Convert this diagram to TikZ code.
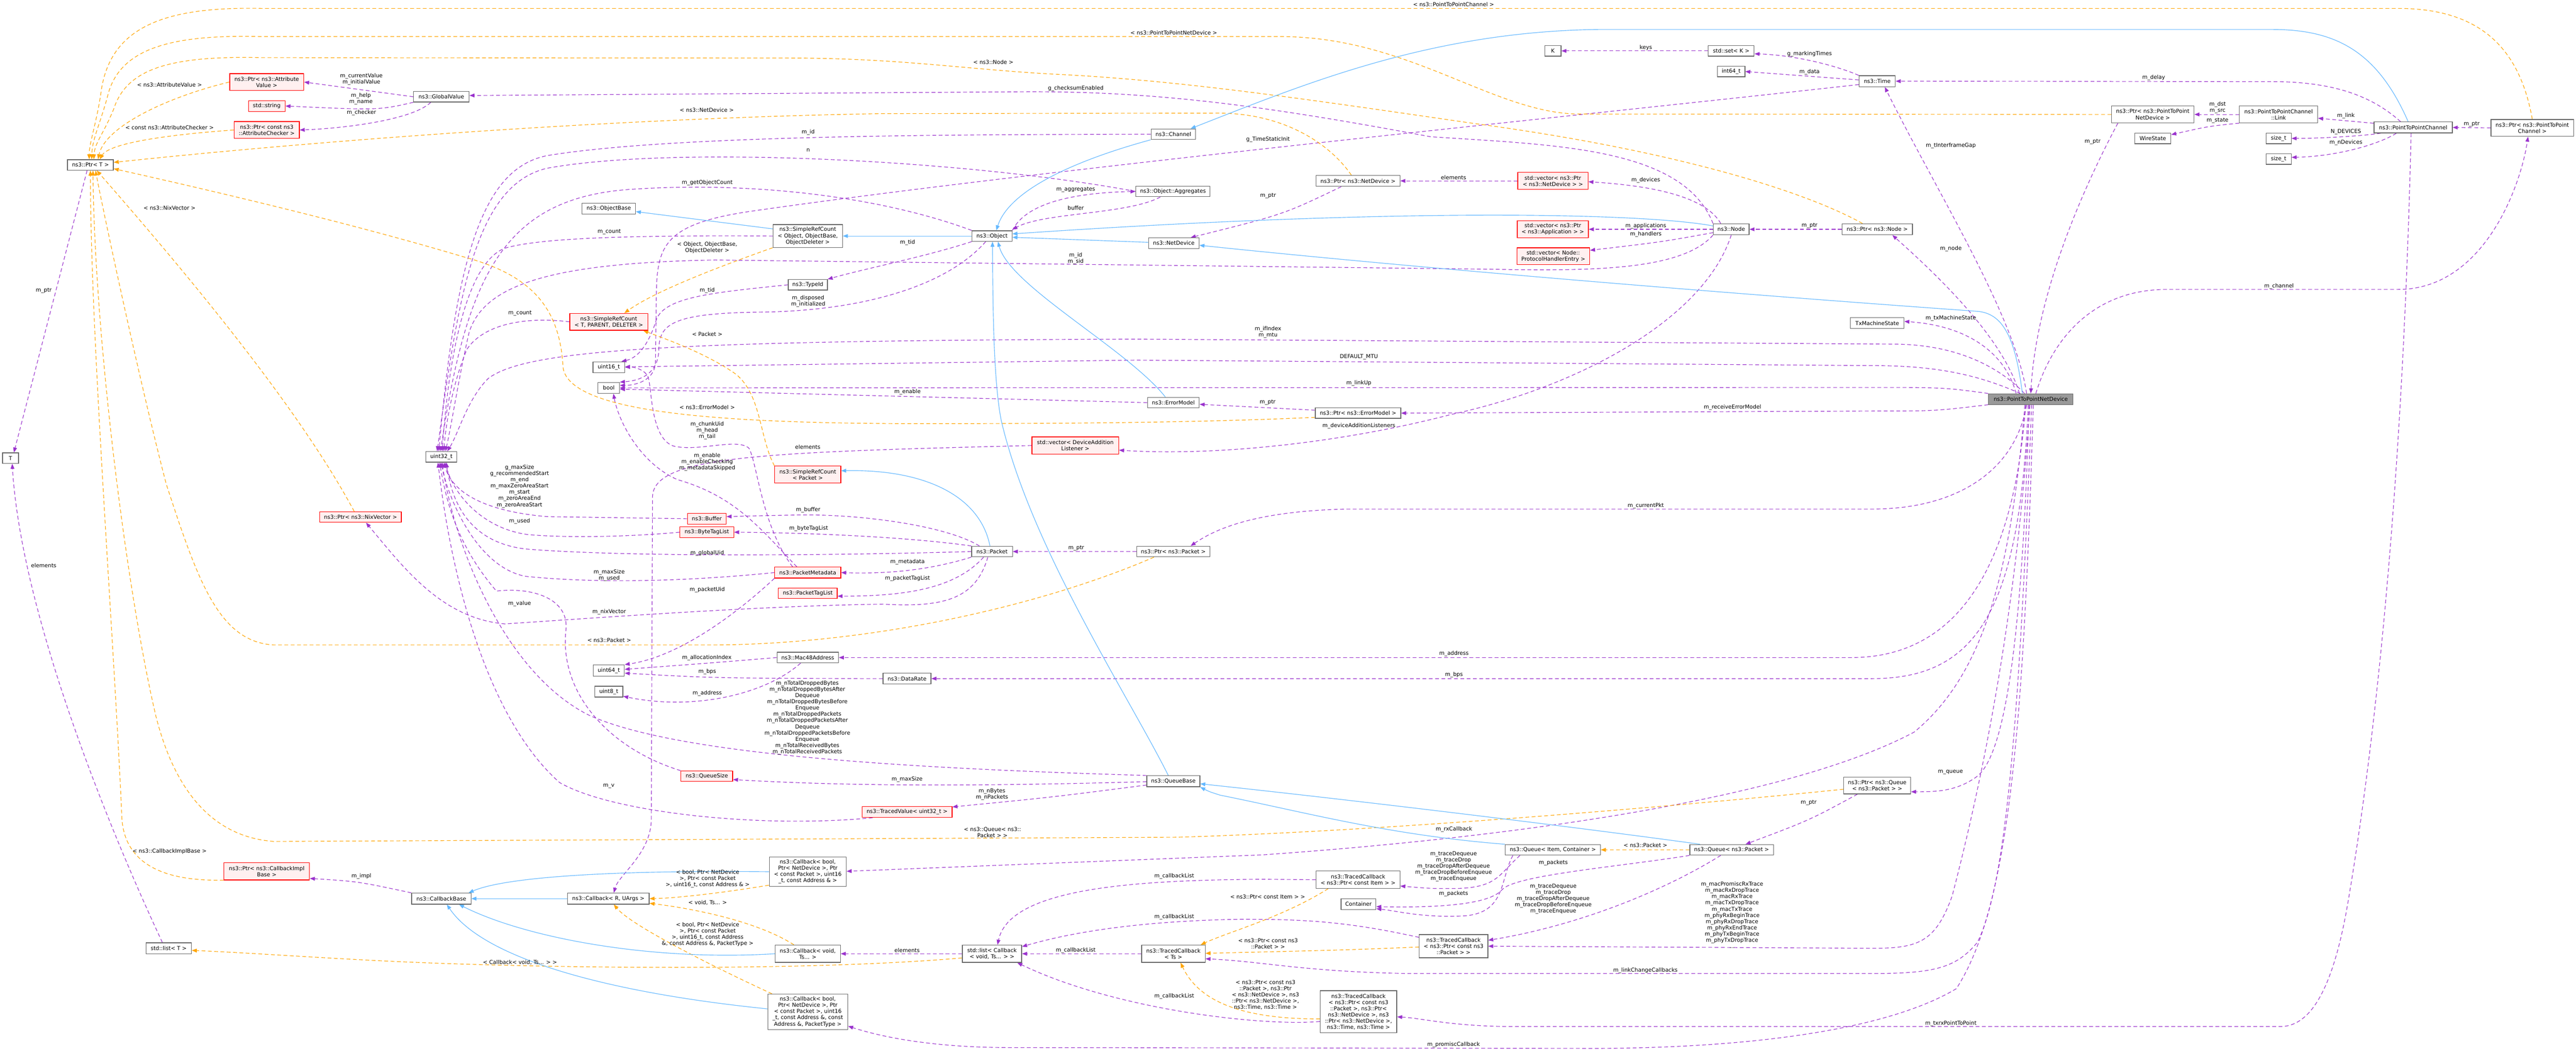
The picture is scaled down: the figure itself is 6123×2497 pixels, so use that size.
\documentclass[tikz,border=0pt]{standalone}
\usepackage{fontspec}
\newfontfamily\dvs{DejaVu Sans}
\usetikzlibrary{arrows.meta}
\pgfdeclarelayer{bg}
\pgfsetlayers{bg,main}
\definecolor{usec}{HTML}{9A32CD}
\definecolor{tplc}{HTML}{FFA500}
\definecolor{inhc}{HTML}{63B8FF}
\definecolor{ndgray}{HTML}{666666}
\definecolor{redfill}{HTML}{FFF0F0}
\definecolor{focusfill}{HTML}{999999}
\newcommand{\ndfont}{\dvs\fontsize{12.9pt}{14.8pt}\selectfont}
\tikzset{
  nd/.style={draw=ndgray, fill=white, line width=1.6pt, font=\ndfont, align=center, inner sep=1pt},
  rnd/.style={nd, draw=red, fill=redfill},
  lb/.style={font=\ndfont, align=center, inner sep=0pt, text=black},
  conn/.style={line width=1.4pt, line cap=butt},
  usel/.style={conn, draw=usec, dash pattern=on 9pt off 6pt, -{Triangle[length=12pt,width=9pt]}},
  tpll/.style={conn, draw=tplc, dash pattern=on 9pt off 6pt, -{Triangle[length=12pt,width=9pt]}},
  inhl/.style={conn, draw=inhc, -{Triangle[length=12pt,width=9pt]}},
}
\begin{document}
\begin{tikzpicture}[x=1pt,y=-1pt]
\useasboundingbox (0,0) rectangle (6123,2497);
% ---------------- nodes ----------------
\node[nd,minimum width=109pt,minimum height=25pt] (ptrT) at (215,392) {ns3::Ptr< T >};
\node[rnd,minimum width=176pt,minimum height=40pt] (ptrAttrVal) at (634,195) {ns3::Ptr< ns3::Attribute\\Value >};
\node[rnd,minimum width=87pt,minimum height=26pt] (stdstring) at (634,252) {std::string};
\node[rnd,minimum width=155pt,minimum height=40pt] (ptrAttrChk) at (634,309) {ns3::Ptr< const ns3\\::AttributeChecker >};
\node[nd,minimum width=132pt,minimum height=25pt] (globalValue) at (1049,230) {ns3::GlobalValue};
\node[nd,minimum width=127pt,minimum height=25pt] (objectBase) at (1447,496) {ns3::ObjectBase};
\node[nd,minimum width=165pt,minimum height=54pt] (srcObj) at (1920,561) {ns3::SimpleRefCount\\< Object, ObjectBase,\\ObjectDeleter >};
\node[nd,minimum width=95pt,minimum height=25pt] (object) at (2358,561) {ns3::Object};
\node[nd,minimum width=93pt,minimum height=25pt] (typeId) at (1920,677) {ns3::TypeId};
\node[rnd,minimum width=185pt,minimum height=40pt] (srcT) at (1447,765) {ns3::SimpleRefCount\\< T, PARENT, DELETER >};
\node[nd,minimum width=106pt,minimum height=25pt] (channel) at (2789,319) {ns3::Channel};
\node[nd,minimum width=39pt,minimum height=25pt] (K) at (3691,121) {K};
\node[nd,minimum width=109pt,minimum height=25pt] (stdset) at (4115,121) {std::set< K >};
\node[nd,minimum width=65pt,minimum height=25pt] (int64) at (4115,170) {int64\_t};
\node[nd,minimum width=199pt,minimum height=26pt] (ptrNetDev) at (3228,430) {ns3::Ptr< ns3::NetDevice >};
\node[rnd,minimum width=167pt,minimum height=40pt] (vecNetDev) at (3691,430) {std::vector< ns3::Ptr\\< ns3::NetDevice > >};
\node[nd,minimum width=176pt,minimum height=25pt] (aggregates) at (2788,455) {ns3::Object::Aggregates};
\node[nd,minimum width=120pt,minimum height=25pt] (netDevice) at (2790,578) {ns3::NetDevice};
\node[nd,minimum width=85pt,minimum height=26pt] (node) at (4115,545) {ns3::Node};
\node[rnd,minimum width=169pt,minimum height=40pt] (vecApp) at (3691,545) {std::vector< ns3::Ptr\\< ns3::Application > >};
\node[rnd,minimum width=173pt,minimum height=40pt] (vecPHE) at (3692,609) {std::vector< Node::\\ProtocolHandlerEntry >};
\node[nd,minimum width=86pt,minimum height=26pt] (time) at (4462,193) {ns3::Time};
\node[nd,minimum width=196pt,minimum height=40pt] (ptrP2PND) at (5117,272) {ns3::Ptr< ns3::PointToPoint\\NetDevice >};
\node[nd,minimum width=186pt,minimum height=40pt] (link) at (5416,272) {ns3::PointToPointChannel\\::Link};
\node[nd,minimum width=86pt,minimum height=25pt] (wireState) at (5117,329) {WireState};
\node[nd,minimum width=186pt,minimum height=26pt] (p2pChannel) at (5736,303) {ns3::PointToPointChannel};
\node[nd,minimum width=196pt,minimum height=40pt] (ptrP2PCh) at (6019,304) {ns3::Ptr< ns3::PointToPoint\\Channel >};
\node[nd,minimum width=60pt,minimum height=25pt] (sizetA) at (5416,329) {size\_t};
\node[nd,minimum width=60pt,minimum height=25pt] (sizetB) at (5416,378) {size\_t};
\node[nd,minimum width=167pt,minimum height=26pt] (ptrNode) at (4462,545) {ns3::Ptr< ns3::Node >};
\node[nd,minimum width=127pt,minimum height=26pt] (txMS) at (4462,768) {TxMachineState};
\node[nd,fill=focusfill,minimum width=201pt,minimum height=26pt] (p2pND) at (4827,949) {ns3::PointToPointNetDevice};
\node[nd,minimum width=38pt,minimum height=25pt] (T) at (25,1089) {T};
\node[nd,minimum width=74pt,minimum height=25pt] (uint32) at (1049,1086) {uint32\_t};
\node[rnd,minimum width=194pt,minimum height=25pt] (ptrNix) at (857,1229) {ns3::Ptr< ns3::NixVector >};
\node[nd,minimum width=75pt,minimum height=26pt] (uint16) at (1447,873) {uint16\_t};
\node[nd,minimum width=51pt,minimum height=26pt] (bool) at (1447,922) {bool};
\node[rnd,minimum width=206pt,minimum height=41pt] (vecDAL) at (2556,1059) {std::vector< DeviceAddition\\Listener >};
\node[rnd,minimum width=157pt,minimum height=40pt] (srcPacket) at (1920,1128) {ns3::SimpleRefCount\\< Packet >};
\node[rnd,minimum width=92pt,minimum height=26pt] (buffer) at (1680,1233) {ns3::Buffer};
\node[rnd,minimum width=128pt,minimum height=26pt] (byteTagList) at (1680,1265) {ns3::ByteTagList};
\node[nd,minimum width=97pt,minimum height=25pt] (packet) at (2358,1311) {ns3::Packet};
\node[rnd,minimum width=157pt,minimum height=26pt] (packetMeta) at (1920,1361) {ns3::PacketMetadata};
\node[rnd,minimum width=140pt,minimum height=25pt] (packetTagList) at (1920,1410) {ns3::PacketTagList};
\node[nd,minimum width=146pt,minimum height=25pt] (mac48) at (1920,1563) {ns3::Mac48Address};
\node[nd,minimum width=74pt,minimum height=27pt] (uint64) at (1447,1594) {uint64\_t};
\node[nd,minimum width=114pt,minimum height=26pt] (dataRate) at (2156,1613) {ns3::DataRate};
\node[nd,minimum width=67pt,minimum height=26pt] (uint8) at (1447,1644) {uint8\_t};
\node[nd,minimum width=123pt,minimum height=25pt] (errorModel) at (2789,957) {ns3::ErrorModel};
\node[nd,minimum width=203pt,minimum height=25pt] (ptrErrModel) at (3228,982) {ns3::Ptr< ns3::ErrorModel >};
\node[nd,minimum width=174pt,minimum height=25pt] (ptrPacket) at (2789,1311) {ns3::Ptr< ns3::Packet >};
\node[rnd,minimum width=203pt,minimum height=41pt] (ptrCBImpl) at (634,2071) {ns3::Ptr< ns3::CallbackImpl\\Base >};
\node[nd,minimum width=141pt,minimum height=26pt] (callbackBase) at (1049,2136) {ns3::CallbackBase};
\node[nd,minimum width=108pt,minimum height=26pt] (stdlistT) at (401,2254) {std::list< T >};
\node[nd,minimum width=194pt,minimum height=26pt] (callbackRU) at (1446,2136) {ns3::Callback< R, UArgs >};
\node[rnd,minimum width=123pt,minimum height=25pt] (queueSize) at (1680,1845) {ns3::QueueSize};
\node[nd,minimum width=126pt,minimum height=26pt] (queueBase) at (2789,1857) {ns3::QueueBase};
\node[rnd,minimum width=214pt,minimum height=26pt] (tracedValue) at (2156,1930) {ns3::TracedValue< uint32\_t >};
\node[nd,minimum width=183pt,minimum height=69pt] (cbBool5) at (1920,2072) {ns3::Callback< bool,\\Ptr< NetDevice >, Ptr\\< const Packet >, uint16\\\_t, const Address \& >};
\node[nd,minimum width=155pt,minimum height=41pt] (cbVoid) at (1920,2267) {ns3::Callback< void,\\Ts... >};
\node[nd,minimum width=141pt,minimum height=41pt] (listCB) at (2358,2267) {std::list< Callback\\< void, Ts... > >};
\node[nd,minimum width=151pt,minimum height=41pt] (tracedCBTs) at (2789,2267) {ns3::TracedCallback\\< Ts >};
\node[nd,minimum width=190pt,minimum height=84pt] (cbBool7) at (1920,2405) {ns3::Callback< bool,\\Ptr< NetDevice >, Ptr\\< const Packet >, uint16\\\_t, const Address \&, const\\Address \&, PacketType >};
\node[nd,minimum width=159pt,minimum height=40pt] (ptrQueue) at (4462,1867) {ns3::Ptr< ns3::Queue\\< ns3::Packet > >};
\node[nd,minimum width=226pt,minimum height=25pt] (queueIC) at (3691,2020) {ns3::Queue< Item, Container >};
\node[nd,minimum width=199pt,minimum height=25pt] (queuePkt) at (4116,2020) {ns3::Queue< ns3::Packet >};
\node[nd,minimum width=199pt,minimum height=41pt] (tcbItem) at (3228,2091) {ns3::TracedCallback\\< ns3::Ptr< const Item > >};
\node[nd,minimum width=83pt,minimum height=26pt] (container) at (3229,2149) {Container};
\node[nd,minimum width=163pt,minimum height=55pt] (tcbPkt) at (3455,2249) {ns3::TracedCallback\\< ns3::Ptr< const ns3\\::Packet > >};
\node[nd,minimum width=182pt,minimum height=100pt] (tcbTx) at (3229,2405) {ns3::TracedCallback\\< ns3::Ptr< const ns3\\::Packet >, ns3::Ptr<\\ns3::NetDevice >, ns3\\::Ptr< ns3::NetDevice >,\\ns3::Time, ns3::Time >};
% ---------------- connectors ----------------
\begin{pgfonlayer}{bg}
\fill[white] (0,0) rectangle (6123,2497);
% usage (purple)
\draw[usel] (globalValue.west) -- (ptrAttrVal.east);
\draw[usel] (globalValue.south west) .. controls (900,262) .. (stdstring.east);
\draw[usel] ([xshift=-25pt]globalValue.south) .. controls (980,285) and (820,305) .. (ptrAttrChk.east);
\draw[usel] ([xshift=-8pt]ptrT.south) -- ([xshift=8pt]T.north);
\draw[usel] ([xshift=-15pt]stdlistT.north) .. controls (250,1950) and (50,1450) .. ([xshift=4pt]T.south);
\draw[usel] (node.north west) .. controls (4000,350) and (3700,345) .. (3400,325) .. controls (3000,250) and (2750,218) .. (2450,218) -- ([yshift=3pt]globalValue.east);
\draw[usel] (object.south west) .. controls (2200,610) and (2050,640) .. (typeId.north east);
\draw[usel] (object.north east) .. controls (2440,480) and (2560,458) .. (aggregates.west);
\draw[usel] ([xshift=-30pt]aggregates.south) .. controls (2680,510) and (2480,505) .. ([yshift=2pt]object.north east);
\draw[usel] (aggregates.west) .. controls (2300,380) and (1600,345) .. (1300,400) .. controls (1130,440) and (1090,700) .. ([xshift=-10pt]uint32.north);
\draw[usel] (channel.west) .. controls (2300,320) and (1600,320) .. (1300,370) .. controls (1150,400) and (1085,600) .. ([xshift=-6pt]uint32.north);
\draw[usel] (object.north west) .. controls (2100,470) and (1800,430) .. (1500,450) .. controls (1200,470) and (1110,650) .. ([xshift=-2pt]uint32.north);
\draw[usel] (srcObj.west) .. controls (1600,560) and (1300,560) .. (1200,590) .. controls (1120,620) and (1070,800) .. ([xshift=2pt]uint32.north);
\draw[usel] (srcT.west) .. controls (1250,752) and (1150,770) .. (1110,830) .. controls (1080,900) and (1060,1000) .. ([xshift=6pt]uint32.north);
\draw[usel] (node.south west) .. controls (4000,640) and (3800,645) .. (3550,640) -- (1700,618) .. controls (1300,625) and (1150,680) .. (1115,790) .. controls (1090,900) and (1075,1000) .. ([xshift=10pt]uint32.north);
\draw[usel] ([xshift=-15pt]p2pND.north) .. controls (4760,880) and (4660,818) .. (4500,818) -- (2700,806) .. controls (1600,810) and (1250,830) .. (1160,900) .. controls (1110,950) and (1090,1030) .. ([xshift=14pt]uint32.north);
\draw[usel] ([xshift=-25pt]p2pND.north) .. controls (4700,890) and (4600,869) .. (4450,869) -- (2700,856) -- ([yshift=1pt]uint16.east);
\draw[usel] (p2pND.north west) .. controls (4620,921) .. (4450,921) -- (bool.east);
\draw[usel] (errorModel.west) -- ([yshift=-3pt]bool.east);
\draw[usel] ([yshift=-13pt]p2pND.west) .. controls (4600,977) .. (4450,977) -- (ptrErrModel.east);
\draw[usel] ([yshift=7pt]ptrErrModel.west) -- ([yshift=-4pt]errorModel.east);
\draw[usel] (node.south) .. controls (4050,760) and (3750,920) .. (3450,985) .. controls (3200,1050) and (2900,1085) .. ([yshift=-11pt]vecDAL.east);
\draw[usel] (vecDAL.west) .. controls (1800,1075) and (1555,1085) .. (1551,1180) -- (1548,1950) .. controls (1546,2030) and (1470,2080) .. ([xshift=13pt]callbackRU.north);
\draw[usel] ([yshift=-8pt]time.west) .. controls (3800,270) and (2500,400) .. (1800,500) .. controls (1580,530) and (1562,580) .. (1560,700) -- (1558,860) .. controls (1557,905) and (1510,916) .. ([yshift=6pt]bool.east);
\draw[usel] ([xshift=-15pt]object.south) .. controls (2250,680) and (2050,740) .. (1800,742) .. controls (1600,745) and (1567,770) .. (1566,830) .. controls (1565,890) and (1520,905) .. (bool.north east);
\draw[usel] (typeId.west) .. controls (1700,695) and (1580,705) .. (1560,760) .. controls (1545,810) and (1520,850) .. ([xshift=30pt]uint16.north);
\draw[usel] ([yshift=3pt]time.west) -- (int64.east);
\draw[usel] (time.north west) .. controls (4350,150) and (4250,130) .. ([yshift=-7pt]stdset.east);
\draw[usel] (stdset.west) -- (K.east);
\draw[usel] ([xshift=-30pt]p2pChannel.north) .. controls (5640,230) and (5550,194) .. (5400,194) -- (time.east);
\draw[usel] ([xshift=-10pt]p2pND.north) .. controls (4790,750) and (4600,450) .. ([xshift=18pt]time.south);
\draw[usel] ([xshift=-83pt]ptrP2PND.south) .. controls (4950,450) and (4840,700) .. (p2pND.north);
\draw[usel] (link.west) -- (ptrP2PND.east);
\draw[usel] (link.south west) .. controls (5250,300) .. ([yshift=9pt]wireState.east);
\draw[usel] ([yshift=10pt]p2pChannel.west) -- ([yshift=-9pt]link.east);
\draw[usel] (ptrP2PCh.west) -- (p2pChannel.east);
\draw[usel] ([xshift=-77pt]p2pChannel.south) .. controls (5600,325) and (5500,329) .. (sizetA.east);
\draw[usel] ([xshift=-40pt]p2pChannel.south) .. controls (5650,345) and (5550,372) .. ([yshift=4pt]sizetB.east);
\draw[usel] ([xshift=12pt]p2pND.north) .. controls (4880,800) and (4980,688) .. (5150,688) -- (5700,688) .. controls (5900,688) and (5990,450) .. ([xshift=-10pt]ptrP2PCh.south);
\draw[usel] ([xshift=-27pt]p2pND.north) .. controls (4760,800) and (4600,650) .. ([xshift=36pt]ptrNode.south);
\draw[usel] (ptrNode.west) -- (node.east);
\draw[usel] ([xshift=-35pt]p2pND.north) .. controls (4770,850) and (4690,775) .. ([yshift=4pt]txMS.east);
\draw[usel] ([xshift=-25pt]node.north) .. controls (4050,460) and (3900,440) .. ([yshift=-2pt]vecNetDev.east);
\draw[usel] (vecNetDev.west) -- (ptrNetDev.east);
\draw[usel] ([xshift=-40pt]ptrNetDev.south) .. controls (3050,510) .. ([xshift=40pt]netDevice.north);
\draw[usel] (node.west) -- (vecApp.east);
\draw[usel] ([yshift=-8pt]node.west) .. controls (3950,575) .. ([yshift=14pt]vecPHE.east);
\draw[usel] ([xshift=-10pt]p2pND.south) .. controls (4790,1120) and (4650,1210) .. (4450,1210) -- (3200,1210) .. controls (3000,1215) and (2900,1250) .. ([xshift=41pt]ptrPacket.north);
\draw[usel] (ptrPacket.west) -- (packet.east);
\draw[usel] ([xshift=-12pt]p2pND.south) .. controls (4790,1300) and (4680,1563) .. (4400,1563) -- (mac48.east);
\draw[usel] ([xshift=-6pt]p2pND.south) .. controls (4800,1450) and (4700,1613) .. (4450,1613) -- (dataRate.east);
\draw[usel] ([xshift=-4pt]p2pND.south) .. controls (4810,1400) and (4780,1780) .. (4700,1845) .. controls (4650,1882) and (4600,1882) .. ([yshift=-15pt]ptrQueue.east);
\draw[usel] ([xshift=-14pt]p2pND.south) .. controls (4780,1350) and (4720,1600) .. (4550,1740) .. controls (4250,1900) and (3600,1990) .. (3000,2032) -- ([yshift=1pt]cbBool5.east);
\draw[usel] ([xshift=-2pt]p2pND.south) .. controls (4790,1500) and (4700,1900) .. (4640,2130) .. controls (4600,2240) and (4560,2254) .. (4450,2254) -- (tcbPkt.east);
\draw[usel] ([xshift=2pt]p2pND.south) .. controls (4800,1700) and (4770,2100) .. (4700,2240) .. controls (4650,2300) and (4600,2314) .. (4450,2314) -- (3350,2314) .. controls (3100,2310) and (3000,2285) .. ([yshift=-12pt]tracedCBTs.east);
\draw[usel] ([xshift=6pt]p2pND.south) .. controls (4810,1700) and (4780,2150) .. (4650,2350) .. controls (4500,2440) and (4200,2490) .. (3800,2492) -- (2400,2490) .. controls (2200,2490) and (2080,2460) .. ([yshift=-34pt]cbBool7.east);
\draw[usel] ([xshift=-5pt]p2pChannel.south) .. controls (5710,1200) and (5640,1800) .. (5580,2150) .. controls (5540,2380) and (5480,2440) .. (5420,2440) -- (3600,2440) .. controls (3450,2440) and (3380,2420) .. ([yshift=-12pt]tcbTx.east);
\draw[usel] ([xshift=-47pt]ptrQueue.south) .. controls (4300,1950) .. ([xshift=33pt]queuePkt.north);
\draw[usel] ([xshift=-78pt]queueIC.south) .. controls (3560,2080) and (3560,2112) .. (3450,2112) .. controls (3400,2112) .. ([yshift=-15pt]tcbItem.east);
\draw[usel] ([xshift=-95pt]queueIC.south) .. controls (3565,2090) and (3580,2170) .. (3480,2177) .. controls (3380,2182) and (3320,2165) .. ([yshift=-11pt]container.east);
\draw[usel] (queuePkt.south west) .. controls (3850,2060) and (3600,2080) .. (3570,2115) .. controls (3540,2150) and (3420,2158) .. ([yshift=-6pt]container.east);
\draw[usel] ([xshift=-26pt]queuePkt.south) .. controls (3950,2120) and (3750,2200) .. ([yshift=14pt]tcbPkt.east);
\draw[usel] ([yshift=-1pt]queueBase.west) .. controls (2300,1870) and (2000,1868) .. ([yshift=-8pt]queueSize.east);
\draw[usel] ([yshift=-9pt]queueBase.west) .. controls (2500,1895) .. ([yshift=12pt]tracedValue.east);
\draw[usel] (queueBase.north west) .. controls (2100,1825) and (1600,1790) .. (1400,1700) .. controls (1200,1600) and (1080,1300) .. ([xshift=2pt]uint32.south);
\draw[usel] (queueSize.north west) .. controls (1450,1780) and (1330,1650) .. (1345,1500) .. controls (1355,1420) and (1260,1395) .. (1180,1405) .. controls (1090,1300) and (1062,1200) .. ([xshift=-4pt]uint32.south);
\draw[usel] ([xshift=-82pt]tracedValue.south) .. controls (1800,1970) and (1450,1930) .. (1330,1860) .. controls (1150,1700) and (1070,1350) .. ([xshift=-8pt]uint32.south);
\draw[usel] (buffer.west) -- (1300,1228) .. controls (1150,1215) and (1075,1170) .. ([xshift=6pt]uint32.south);
\draw[usel] (byteTagList.west) .. controls (1450,1280) and (1300,1276) .. (1250,1270) .. controls (1150,1255) and (1080,1180) .. ([xshift=9pt]uint32.south);
\draw[usel] (packet.west) .. controls (2000,1320) and (1500,1325) .. (1250,1305) .. controls (1120,1290) and (1075,1200) .. ([xshift=12pt]uint32.south);
\draw[usel] (packetMeta.west) .. controls (1600,1385) and (1400,1385) .. (1250,1370) .. controls (1140,1350) and (1070,1200) .. ([xshift=-1pt]uint32.south);
\draw[usel] ([xshift=-30pt]packet.north) .. controls (2250,1250) and (2050,1222) .. (1900,1224) .. controls (1800,1226) .. ([yshift=5pt]buffer.east);
\draw[usel] (packet.north west) .. controls (2150,1275) and (1900,1266) .. (byteTagList.east);
\draw[usel] (packet.south west) .. controls (2200,1358) and (2100,1364) .. (packetMeta.east);
\draw[usel] ([xshift=-20pt]packet.south) .. controls (2270,1400) and (2150,1417) .. ([yshift=-7pt]packetTagList.east);
\draw[usel] ([xshift=-10pt]packet.south) .. controls (2320,1420) and (2250,1445) .. (2100,1436) .. controls (1800,1440) and (1400,1470) .. (1200,1483) .. controls (1050,1470) and (960,1350) .. ([xshift=13pt]ptrNix.south);
\draw[usel] ([xshift=-26pt]packetMeta.north) .. controls (1810,1260) and (1750,1180) .. (1610,1140) .. controls (1520,1100) and (1470,1000) .. ([xshift=11pt]bool.south);
\draw[usel] ([xshift=-36pt]packetMeta.north) .. controls (1810,1250) and (1800,1100) .. (1780,1065) .. controls (1750,1040) and (1660,1075) .. (1600,1060) .. controls (1545,1040) and (1550,920) .. (1540,895) .. controls (1530,875) and (1500,872) .. (uint16.east);
\draw[usel] (packetMeta.south west) .. controls (1760,1450) and (1620,1560) .. (uint64.north east);
\draw[usel] (mac48.west) .. controls (1700,1575) .. ([yshift=3pt]uint64.east);
\draw[usel] (dataRate.west) .. controls (1700,1612) .. ([yshift=-6pt]uint64.east);
\draw[usel] ([xshift=-17pt]mac48.south) .. controls (1820,1650) and (1650,1690) .. ([yshift=-11pt]uint8.east);
\draw[usel] (callbackBase.north west) .. controls (850,2095) .. ([yshift=-17pt]ptrCBImpl.east);
\draw[usel] (listCB.west) -- (cbVoid.east);
\draw[usel] (tracedCBTs.west) -- (listCB.east);
\draw[usel] (tcbItem.west) -- (3000,2090) .. controls (2700,2092) and (2400,2110) .. ([xshift=13pt]listCB.north);
\draw[usel] ([yshift=21pt]tcbPkt.west) .. controls (3200,2190) and (3100,2185) .. (2950,2185) .. controls (2650,2190) and (2500,2230) .. ([yshift=17pt]listCB.east);
\draw[usel] ([yshift=-23pt]tcbTx.west) .. controls (3000,2440) and (2650,2400) .. ([xshift=60pt]listCB.south);
% template instances (orange)
\draw[tpll] (ptrAttrVal.west) .. controls (400,230) and (250,300) .. ([xshift=18pt]ptrT.north);
\draw[tpll] (ptrAttrChk.west) .. controls (400,320) and (260,340) .. ([xshift=22pt]ptrT.north);
\draw[tpll] ([xshift=-15pt]ptrNix.north) .. controls (700,950) and (400,600) .. ([xshift=15pt]ptrT.south);
\draw[tpll] ([yshift=-10pt]ptrErrModel.west) .. controls (2800,1007) and (2400,1007) .. (2150,1007) .. controls (1700,1005) and (1345,980) .. (1338,870) .. controls (1330,720) and (1250,650) .. (1100,610) .. controls (800,520) and (400,430) .. ([yshift=-9pt]ptrT.east);
\draw[tpll] ([xshift=-16pt]ptrNetDev.north) .. controls (3160,340) and (3050,270) .. (2900,269) -- (2100,270) .. controls (1500,280) and (800,330) .. ([yshift=6pt]ptrT.east);
\draw[tpll] ([xshift=-35pt]ptrNode.north) .. controls (4300,460) and (4000,360) .. (3500,293) .. controls (3100,235) and (2800,190) .. (2500,176) .. controls (2300,165) and (2150,140) .. (1900,138) -- (620,137) .. controls (400,132) and (300,165) .. (270,260) .. controls (245,320) and (225,340) .. ([xshift=8pt]ptrT.north);
\draw[tpll] (ptrP2PND.west) -- (3750,271) .. controls (3550,268) and (3350,90) .. (3050,87) -- (620,87) .. controls (420,82) and (290,110) .. (258,220) .. controls (240,290) and (219,330) .. ([xshift=3pt]ptrT.north);
\draw[tpll] (ptrP2PCh.north) .. controls (5990,120) and (5900,20) .. (5700,20) -- (620,20) .. controls (380,15) and (260,70) .. (240,220) .. controls (230,290) and (212,340) .. ([xshift=-3pt]ptrT.north);
\draw[tpll] ([xshift=-46pt]ptrPacket.south) .. controls (2500,1430) and (2100,1530) .. (1700,1533) -- (650,1533) .. controls (520,1525) and (470,1380) .. (395,1150) .. controls (330,900) and (245,500) .. ([xshift=12pt]ptrT.south);
\draw[tpll] ([yshift=-9pt]ptrQueue.west) .. controls (4000,1915) and (3300,1975) .. (2800,1990) -- (650,2000) .. controls (520,1990) and (420,1900) .. (370,1700) .. controls (300,1400) and (225,800) .. ([xshift=6pt]ptrT.south);
\draw[tpll] ([yshift=-21pt]ptrCBImpl.west) .. controls (400,2095) and (300,2060) .. (290,1950) .. controls (270,1500) and (215,800) .. (ptrT.south);
\draw[tpll] (srcObj.south west) .. controls (1720,630) and (1560,690) .. ([xshift=37pt]srcT.north);
\draw[tpll] (srcPacket.north west) .. controls (1805,1040) and (1810,940) .. (1750,890) .. controls (1680,840) and (1580,805) .. ([xshift=82pt]srcT.south);
\draw[tpll] ([yshift=-32pt]cbBool5.west) .. controls (1700,2125) and (1600,2135) .. (callbackRU.east);
\draw[tpll] ([xshift=-33pt]cbVoid.north) .. controls (1800,2190) and (1650,2160) .. ([yshift=-11pt]callbackRU.east);
\draw[tpll] ([xshift=-85pt]cbBool7.north) .. controls (1700,2300) and (1500,2200) .. ([xshift=13pt]callbackRU.south);
\draw[tpll] ([yshift=-10pt]listCB.west) .. controls (1900,2310) and (1300,2300) .. (1000,2288) .. controls (800,2280) and (600,2265) .. ([yshift=-5pt]stdlistT.east);
\draw[tpll] (queuePkt.west) -- (queueIC.east);
\draw[tpll] ([xshift=-71pt]tcbItem.south) .. controls (3050,2180) and (2920,2215) .. ([xshift=65pt]tracedCBTs.north);
\draw[tpll] ([yshift=-2pt]tcbPkt.west) .. controls (3200,2258) .. ([yshift=1pt]tracedCBTs.east);
\draw[tpll] ([yshift=-17pt]tcbTx.west) .. controls (2950,2422) and (2850,2380) .. ([xshift=17pt]tracedCBTs.south);
% inheritance (blue)
\draw[inhl] ([yshift=17pt]srcObj.west) -- ([yshift=-7pt]objectBase.east);
\draw[inhl] (object.west) -- (srcObj.east);
\draw[inhl] (channel.south west) .. controls (2560,380) and (2400,450) .. ([xshift=10pt]object.north);
\draw[inhl] ([yshift=2pt]netDevice.west) -- ([yshift=-3pt]object.east);
\draw[inhl] ([yshift=8pt]node.west) .. controls (3900,505) and (3300,495) .. ([yshift=5pt]object.east);
\draw[inhl] ([xshift=-19pt]errorModel.north) .. controls (2680,830) and (2400,680) .. ([xshift=14pt]object.south);
\draw[inhl] ([xshift=-12pt]queueBase.north) .. controls (2680,1650) and (2450,1300) .. (2380,1000) .. controls (2360,900) and (2360,700) .. ([xshift=1pt]object.south);
\draw[inhl] ([xshift=-5pt]packet.north) .. controls (2330,1180) and (2200,1115) .. ([yshift=9pt]srcPacket.east);
\draw[inhl] ([xshift=-12pt]p2pChannel.north) .. controls (5650,120) and (5550,70) .. (5400,70) -- (3800,70) .. controls (3400,75) and (3100,200) .. ([xshift=41pt]channel.north);
\draw[inhl] ([xshift=-20pt]p2pND.north) .. controls (4790,800) and (4760,745) .. (4700,740) .. controls (4000,690) and (3300,630) .. ([yshift=-5pt]netDevice.east);
\draw[inhl] (queueIC.north west) .. controls (3300,1985) and (3100,1930) .. (2900,1890) .. controls (2875,1882) .. ([yshift=-14pt]queueBase.east);
\draw[inhl] ([xshift=-75pt]queuePkt.north) .. controls (3700,1960) and (3200,1900) .. ([yshift=-6pt]queueBase.east);
\draw[inhl] (callbackRU.west) -- (callbackBase.east);
\draw[inhl] (cbBool5.west) .. controls (1450,2068) and (1200,2085) .. ([xshift=65pt]callbackBase.north);
\draw[inhl] (cbVoid.west) .. controls (1550,2285) and (1250,2230) .. ([xshift=42pt]callbackBase.south);
\draw[inhl] ([yshift=7pt]cbBool7.west) .. controls (1450,2360) and (1150,2280) .. ([xshift=13pt]callbackBase.south);
\end{pgfonlayer}
% ---------------- labels ----------------
\node[lb] (l01) at (859,188) {m\_currentValue\\m\_initialValue};
\node[lb] (l02) at (858,235) {m\_help\\m\_name};
\node[lb] (l03) at (859,268) {m\_checker};
\node[lb] (l04) at (104,691) {m\_ptr};
\node[lb] (l05) at (104,1344) {elements};
\node[lb] (l06) at (2557,210) {g\_checksumEnabled};
\node[lb] (l07) at (2157,576) {m\_tid};
\node[lb] (l08) at (2557,451) {m\_aggregates};
\node[lb] (l09) at (2557,494) {buffer};
\node[lb] (l10) at (1921,357) {n};
\node[lb] (l11) at (1921,314) {m\_id};
\node[lb] (l12) at (1681,435) {m\_getObjectCount};
\node[lb] (l13) at (1448,551) {m\_count};
\node[lb] (l14) at (1236,744) {m\_count};
\node[lb] (l15) at (2557,614) {m\_id\\m\_sid};
\node[lb] (l16) at (3014,790) {m\_ifIndex\\m\_mtu};
\node[lb] (l17) at (3230,849) {DEFAULT\_MTU};
\node[lb] (l18) at (3230,911) {m\_linkUp};
\node[lb] (l19) at (2157,931) {m\_enable};
\node[lb] (l20) at (4118,968) {m\_receiveErrorModel};
\node[lb] (l21) at (3013,956) {m\_ptr};
\node[lb] (l22) at (3230,1012) {m\_deviceAdditionListeners};
\node[lb] (l23) at (1920,1063) {elements};
\node[lb] (l24) at (3014,331) {g\_TimeStaticInit};
\node[lb] (l25) at (1921,716) {m\_disposed\\m\_initialized};
\node[lb] (l26) at (1681,690) {m\_tid};
\node[lb] (l27) at (4301,171) {m\_data};
\node[lb] (l28) at (4301,128) {g\_markingTimes};
\node[lb] (l29) at (3912,113) {keys};
\node[lb] (l30) at (5119,185) {m\_delay};
\node[lb] (l31) at (4637,346) {m\_tInterframeGap};
\node[lb] (l32) at (4974,337) {m\_ptr};
\node[lb] (l33) at (5271,256) {m\_dst\\m\_src};
\node[lb] (l34) at (5271,287) {m\_state};
\node[lb] (l35) at (5576,275) {m\_link};
\node[lb] (l36) at (5875,295) {m\_ptr};
\node[lb] (l37) at (5576,313) {N\_DEVICES};
\node[lb] (l38) at (5576,339) {m\_nDevices};
\node[lb] (l39) at (5417,680) {m\_channel};
\node[lb] (l40) at (4637,591) {m\_node};
\node[lb] (l41) at (4301,537) {m\_ptr};
\node[lb] (l42) at (4637,757) {m\_txMachineState};
\node[lb] (l43) at (3912,428) {m\_devices};
\node[lb] (l44) at (3455,422) {elements};
\node[lb] (l45) at (3014,465) {m\_ptr};
\node[lb] (l46) at (3912,537) {m\_applications};
\node[lb] (l47) at (3912,557) {m\_handlers};
\node[lb] (l48) at (3912,1202) {m\_currentPkt};
\node[lb] (l49) at (2558,1303) {m\_ptr};
\node[lb] (l50) at (3456,1554) {m\_address};
\node[lb] (l51) at (3456,1604) {m\_bps};
\node[lb] (l52) at (4636,1835) {m\_queue};
\node[lb] (l53) at (3456,1971) {m\_rxCallback};
\node[lb] (l54) at (4117,2175) {m\_macPromiscRxTrace\\m\_macRxDropTrace\\m\_macRxTrace\\m\_macTxDropTrace\\m\_macTxTrace\\m\_phyRxBeginTrace\\m\_phyRxDropTrace\\m\_phyRxEndTrace\\m\_phyTxBeginTrace\\m\_phyTxDropTrace\\...};
\node[lb] (l55) at (3911,2307) {m\_linkChangeCallbacks};
\node[lb] (l56) at (3455,2483) {m\_promiscCallback};
\node[lb] (l57) at (4637,2433) {m\_txrxPointToPoint};
\node[lb] (l58) at (4299,1908) {m\_ptr};
\node[lb] (l59) at (3455,2060) {m\_traceDequeue\\m\_traceDrop\\m\_traceDropAfterDequeue\\m\_traceDropBeforeEnqueue\\m\_traceEnqueue};
\node[lb] (l60) at (3455,2124) {m\_packets};
\node[lb] (l61) at (3692,2051) {m\_packets};
\node[lb] (l62) at (3692,2137) {m\_traceDequeue\\m\_traceDrop\\m\_traceDropAfterDequeue\\m\_traceDropBeforeEnqueue\\m\_traceEnqueue};
\node[lb] (l63) at (2156,1853) {m\_maxSize};
\node[lb] (l64) at (2358,1888) {m\_nBytes\\m\_nPackets};
\node[lb] (l65) at (1919,1706) {m\_nTotalDroppedBytes\\m\_nTotalDroppedBytesAfter\\Dequeue\\m\_nTotalDroppedBytesBefore\\Enqueue\\m\_nTotalDroppedPackets\\m\_nTotalDroppedPacketsAfter\\Dequeue\\m\_nTotalDroppedPacketsBefore\\Enqueue\\m\_nTotalReceivedBytes\\m\_nTotalReceivedPackets};
\node[lb] (l66) at (1235,1435) {m\_value};
\node[lb] (l67) at (1447,1868) {m\_v};
\node[lb] (l68) at (1235,1156) {g\_maxSize\\g\_recommendedStart\\m\_end\\m\_maxZeroAreaStart\\m\_start\\m\_zeroAreaEnd\\m\_zeroAreaStart};
\node[lb] (l69) at (1235,1239) {m\_used};
\node[lb] (l70) at (1681,1315) {m\_globalUid};
\node[lb] (l71) at (1448,1367) {m\_maxSize\\m\_used};
\node[lb] (l72) at (1921,1212) {m\_buffer};
\node[lb] (l73) at (1922,1256) {m\_byteTagList};
\node[lb] (l74) at (2157,1336) {m\_metadata};
\node[lb] (l75) at (2157,1375) {m\_packetTagList};
\node[lb] (l76) at (1448,1455) {m\_nixVector};
\node[lb] (l77) at (1681,1098) {m\_enable\\m\_enableChecking\\m\_metadataSkipped};
\node[lb] (l78) at (1681,1023) {m\_chunkUid\\m\_head\\m\_tail};
\node[lb] (l79) at (1681,1402) {m\_packetUid};
\node[lb] (l80) at (1680,1563) {m\_allocationIndex};
\node[lb] (l81) at (1681,1597) {m\_bps};
\node[lb] (l82) at (1681,1648) {m\_address};
\node[lb] (l83) at (859,2083) {m\_impl};
\node[lb] (l84) at (2156,2259) {elements};
\node[lb] (l85) at (2557,2259) {m\_callbackList};
\node[lb] (l86) at (2791,2083) {m\_callbackList};
\node[lb] (l87) at (2791,2180) {m\_callbackList};
\node[lb] (l88) at (2791,2368) {m\_callbackList};
\node[lb] (t01) at (403,202) {< ns3::AttributeValue >};
\node[lb] (t02) at (403,303) {< const ns3::AttributeChecker >};
\node[lb] (t03) at (403,494) {< ns3::NixVector >};
\node[lb] (t04) at (1681,968) {< ns3::ErrorModel >};
\node[lb] (t05) at (1680,262) {< ns3::NetDevice >};
\node[lb] (t06) at (2361,148) {< ns3::Node >};
\node[lb] (t07) at (2790,78) {< ns3::PointToPointNetDevice >};
\node[lb] (t08) at (3455,10) {< ns3::PointToPointChannel >};
\node[lb] (t09) at (1448,1522) {< ns3::Packet >};
\node[lb] (t10) at (2359,1979) {< ns3::Queue< ns3::\\Packet > >};
\node[lb] (t11) at (403,2024) {< ns3::CallbackImplBase >};
\node[lb] (t12) at (1681,588) {< Object, ObjectBase,\\ObjectDeleter >};
\node[lb] (t13) at (1681,794) {< Packet >};
\node[lb] (t14) at (1682,2089) {< bool, Ptr< NetDevice\\>, Ptr< const Packet\\>, uint16\_t, const Address \& >};
\node[lb] (t15) at (1682,2146) {< void, Ts... >};
\node[lb] (t16) at (1682,2221) {< bool, Ptr< NetDevice\\>, Ptr< const Packet\\>, uint16\_t, const Address\\\&, const Address \&, PacketType >};
\node[lb] (t17) at (1236,2288) {< Callback< void, Ts... > >};
\node[lb] (t18) at (3911,2009) {< ns3::Packet >};
\node[lb] (t19) at (3013,2131) {< ns3::Ptr< const Item > >};
\node[lb] (t20) at (3014,2243) {< ns3::Ptr< const ns3\\::Packet > >};
\node[lb] (t21) at (3008,2365) {< ns3::Ptr< const ns3\\::Packet >, ns3::Ptr\\< ns3::NetDevice >, ns3\\::Ptr< ns3::NetDevice >,\\ns3::Time, ns3::Time >};
\end{tikzpicture}
\end{document}
